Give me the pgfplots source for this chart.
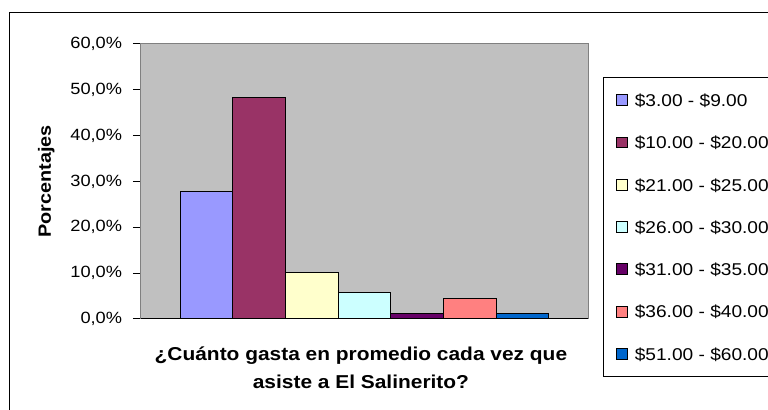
\documentclass[border=0pt]{standalone}
\usepackage{pgfplots}
\pgfplotsset{compat=1.18}
\usepackage{fontspec}
\setmainfont[FakeStretch=1.12]{Liberation Sans}

\definecolor{plotbg}{HTML}{C0C0C0}
\definecolor{plotborder}{HTML}{808080}
\definecolor{cA}{HTML}{9999FF}
\definecolor{cB}{HTML}{993366}
\definecolor{cC}{HTML}{FFFFCC}
\definecolor{cD}{HTML}{CCFFFF}
\definecolor{cE}{HTML}{660066}
\definecolor{cF}{HTML}{FF8080}
\definecolor{cG}{HTML}{0066CC}

\pgfplotsset{
  mybar/.style={fill=#1, draw=black, line width=0.75pt,
    legend image code/.code={\draw[##1, line width=0.75pt] (0pt,-4.1pt) rectangle (8.25pt,4.1pt);}},
}

\begin{document}
\begin{tikzpicture}
\useasboundingbox (0,0) rectangle (576pt,307.5pt);
\draw[line width=1.1pt] (7.1pt,0) -- (7.1pt,298.1pt) -- (580pt,298.1pt);
\begin{axis}[
  at={(105.75pt,68.25pt)}, anchor=south west,
  scale only axis, width=335.25pt, height=206.25pt,
  ybar=0pt, bar width=39.5pt,
  xmin=-1, xmax=1, ymin=0, ymax=60,
  xtick=\empty,
  ytick={0,10,...,60},
  yticklabels={{0,0\%},{10,0\%},{20,0\%},{30,0\%},{40,0\%},{50,0\%},{60,0\%}},
  ytick pos=left,
  tick align=outside,
  major tick length=6pt,
  tick style={black, line width=0.75pt},
  yticklabel style={font=\fontsize{12.2}{14}\selectfont, anchor=east, inner sep=0pt, xshift=-8pt},
  axis background/.style={fill=plotbg},
  axis line style={plotborder, line width=0.75pt},
  ylabel={\bfseries Porcentajes},
  ylabel style={font=\fontsize{13.3}{16}\selectfont, at={(axis description cs:-0.212,0.5)}, anchor=center, inner sep=0pt},
  xlabel={¿Cuánto gasta en promedio cada vez que\\asiste a El Salinerito?},
  xlabel style={font=\fontsize{14}{21}\selectfont\bfseries, align=center, at={(axis description cs:0.492,0)}, anchor=north, inner sep=0pt, yshift=-20.5pt},
  legend style={at={(axis description cs:1.0336,0.88)}, anchor=north west,
    draw=black, line width=0.75pt, fill=white,
    font=\fontsize{12.8}{15}\selectfont,
    inner xsep=9pt, inner ysep=12.3pt, row sep=22.2pt, column sep=5.5pt,
    cells={anchor=west},
    nodes={inner sep=0pt, text height=9.5pt, text depth=0pt}},
  legend cell align=left,
]
\addplot[mybar=cA] coordinates {(0,27.8)};
\addplot[mybar=cB] coordinates {(0,48.4)};
\addplot[mybar=cC] coordinates {(0,10.2)};
\addplot[mybar=cD] coordinates {(0,5.7)};
\addplot[mybar=cE] coordinates {(0,1.3)};
\addplot[mybar=cF] coordinates {(0,4.4)};
\addplot[mybar=cG] coordinates {(0,1.3)};
\legend{\$3.00 - \$9.00, \$10.00 - \$20.00, \$21.00 - \$25.00, \$26.00 - \$30.00, \$31.00 - \$35.00, \$36.00 - \$40.00, \$51.00 - \$60.00}
\draw[black, line width=0.75pt] (rel axis cs:0,0) -- (rel axis cs:1,0);
\end{axis}
\end{tikzpicture}
\end{document}
